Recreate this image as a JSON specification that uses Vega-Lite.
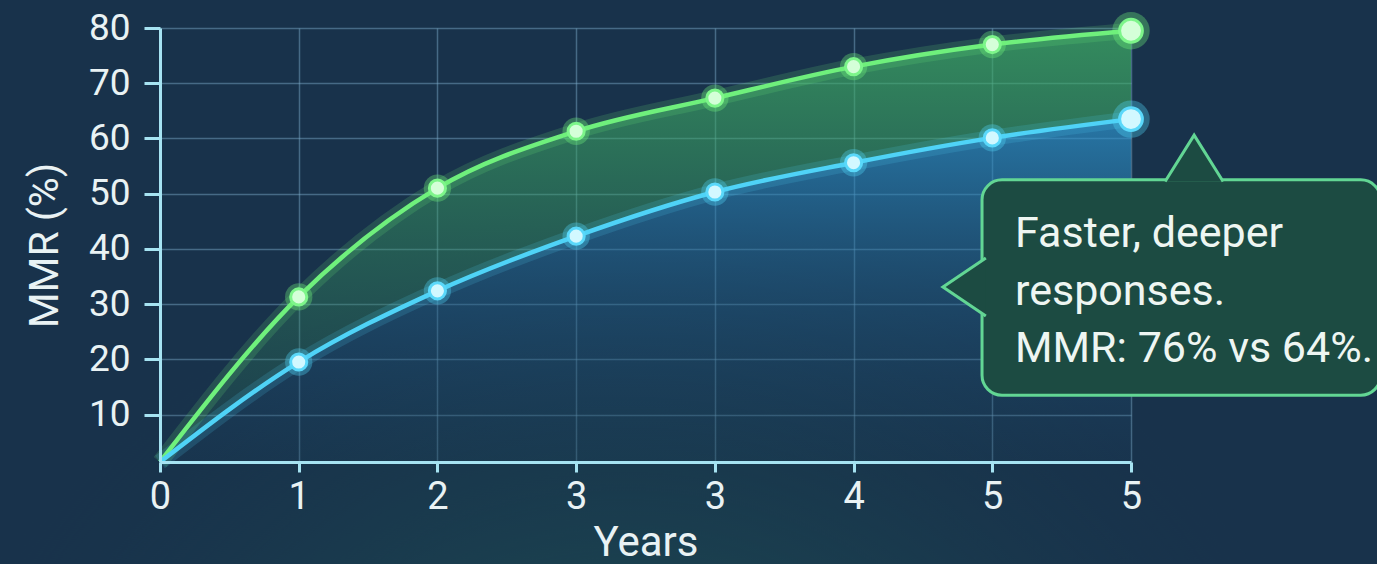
{
  "$schema": "https://vega.github.io/schema/vega-lite/v6.json",
  "width": 971,
  "height": 434,
  "autosize": {"type": "none"},
  "padding": {"left": 160, "top": 28, "right": 246, "bottom": 102},
  "background": "#18324b",
  "config": {
    "view": {"stroke": null},
    "font": "Roboto",
    "axis": {
      "domainColor": "#a6e3f2",
      "domainWidth": 3,
      "tickColor": "#a6e3f2",
      "tickWidth": 3,
      "gridColor": "#7fb0cf",
      "gridOpacity": 0.45,
      "gridWidth": 1.5,
      "labelColor": "#e9f2f4",
      "titleColor": "#e9f2f4",
      "titleFontWeight": "normal",
      "labelFont": "Roboto",
      "titleFont": "Roboto"
    }
  },
  "datasets": {
    "series": [
      {"i": 0, "year": "0", "series": "A", "mmr": 0},
      {"i": 1, "year": "1", "series": "A", "mmr": 31.3},
      {"i": 2, "year": "2", "series": "A", "mmr": 51},
      {"i": 3, "year": "3", "series": "A", "mmr": 61.3},
      {"i": 4, "year": "3", "series": "A", "mmr": 67.3},
      {"i": 5, "year": "4", "series": "A", "mmr": 73},
      {"i": 6, "year": "5", "series": "A", "mmr": 77},
      {"i": 7, "year": "5", "series": "A", "mmr": 79.5},
      {"i": 0, "year": "0", "series": "B", "mmr": 0},
      {"i": 1, "year": "1", "series": "B", "mmr": 19.5},
      {"i": 2, "year": "2", "series": "B", "mmr": 32.4},
      {"i": 3, "year": "3", "series": "B", "mmr": 42.3},
      {"i": 4, "year": "3", "series": "B", "mmr": 50.3},
      {"i": 5, "year": "4", "series": "B", "mmr": 55.6},
      {"i": 6, "year": "5", "series": "B", "mmr": 60.1},
      {"i": 7, "year": "5", "series": "B", "mmr": 63.5}
    ],
    "box": [{"i": 5.926, "i2": 8.8, "mmr": 52.5, "mmr2": 13.5}],
    "pointerTop": [{"i": 7.455, "mmr": 56.6}],
    "pointerLeft": [{"i": 5.803, "mmr": 33.1}],
    "note": [{"i": 6.164, "mmr": 40.3, "label": ["Faster, deeper", "responses.", "MMR: 76% vs 64%."]}],
    "glow": [{"gx": -1.2, "gx2": 8.9, "gy": -18, "gy2": 95}]
  },
  "layer": [
    {
      "data": {"name": "glow"},
      "mark": {
        "type": "rect",
        "fill": {
          "gradient": "radial",
          "x1": 0.45, "y1": 1, "x2": 0.45, "y2": 1, "r1": 0, "r2": 0.55,
          "stops": [
            {"offset": 0, "color": "rgba(36,112,86,0.9)"},
            {"offset": 0.55, "color": "rgba(28,75,82,0.45)"},
            {"offset": 1, "color": "rgba(24,50,75,0)"}
          ]
        }
      },
      "encoding": {
        "x": {
          "field": "gx", "type": "quantitative",
          "scale": {"domain": [0, 7], "nice": false, "zero": false},
          "axis": {"orient": "bottom", "grid": true, "zindex": 0, "domain": false, "labels": false, "ticks": false, "title": null, "minExtent": 0, "maxExtent": 0, "values": [0, 1, 2, 3, 4, 5, 6, 7]}
        },
        "x2": {"field": "gx2"},
        "y": {
          "field": "gy", "type": "quantitative",
          "scale": {"domain": [1.4, 80], "nice": false, "zero": false},
          "axis": {"orient": "left", "grid": true, "zindex": 0, "domain": false, "labels": false, "ticks": false, "title": null, "minExtent": 0, "maxExtent": 0, "values": [10, 20, 30, 40, 50, 60, 70, 80]}
        },
        "y2": {"field": "gy2"}
      }
    },
    {
      "data": {"name": "series"},
      "encoding": {
        "x": {
          "field": "i",
          "type": "quantitative",
          "scale": {"domain": [0, 7], "nice": false, "zero": false},
          "axis": {
            "orient": "bottom",
            "grid": false,
            "zindex": 1,
            "title": "Years",
            "values": [0, 1, 2, 3, 4, 5, 6, 7],
            "labelExpr": "['0','1','2','3','3','4','5','5'][datum.value]",
            "tickSize": 10,
            "labelPadding": 6,
            "labelFontSize": 38,
            "titleFontSize": 42,
            "titleY": 93,
            "titleBaseline": "alphabetic",
            "labelFlush": false,
            "labelOverlap": false
          }
        },
        "y": {
          "field": "mmr",
          "type": "quantitative",
          "scale": {"domain": [1.4, 80], "nice": false, "zero": false, "clamp": true},
          "axis": {
            "orient": "left",
            "grid": false,
            "zindex": 1,
            "title": "MMR (%)",
            "values": [10, 20, 30, 40, 50, 60, 70, 80],
            "tickSize": 16,
            "labelPadding": 14,
            "labelFontSize": 37,
            "titleFontSize": 41,
            "titleX": -115,
            "titleY": 217,
            "titleBaseline": "middle",
            "titleAlign": "center",
            "labelFlush": false,
            "labelOverlap": false
          }
        }
      },
      "layer": [
        {
          "transform": [
            {"pivot": "series", "value": "mmr", "groupby": ["i"]}
          ],
          "mark": {
            "type": "area",
            "interpolate": "monotone",
            "fill": {
              "gradient": "linear", "x1": 0, "y1": 0, "x2": 0, "y2": 1,
              "stops": [
                {"offset": 0, "color": "rgba(64,178,102,0.7)"},
                {"offset": 0.5, "color": "rgba(56,155,98,0.4)"},
                {"offset": 1, "color": "rgba(50,130,90,0.12)"}
              ]
            }
          },
          "encoding": {
            "y": {"field": "A", "type": "quantitative"},
            "y2": {"field": "B"}
          }
        },
        {
          "transform": [{"filter": "datum.series == 'B'"}],
          "mark": {
            "type": "area",
            "interpolate": "monotone",
            "fill": {
              "gradient": "linear", "x1": 0, "y1": 0, "x2": 0, "y2": 1,
              "stops": [
                {"offset": 0, "color": "rgba(46,148,205,0.7)"},
                {"offset": 0.5, "color": "rgba(36,105,150,0.4)"},
                {"offset": 1, "color": "rgba(28,70,105,0.1)"}
              ]
            }
          }
        },
        {
          "mark": {"type": "line", "interpolate": "monotone", "strokeWidth": 16, "opacity": 0.16},
          "encoding": {
            "color": {"field": "series", "type": "nominal", "scale": {"domain": ["A", "B"], "range": ["#6ff07c", "#4fd3f7"]}, "legend": null}
          }
        },
        {
          "mark": {"type": "line", "interpolate": "monotone", "strokeWidth": 4.5},
          "encoding": {
            "color": {"field": "series", "type": "nominal", "scale": {"domain": ["A", "B"], "range": ["#6ff07c", "#4fd3f7"]}, "legend": null}
          }
        },
        {
          "transform": [{"filter": "datum.i > 0"}],
          "mark": {"type": "point", "shape": "circle", "filled": true, "opacity": 0.35},
          "encoding": {
            "color": {"field": "series", "type": "nominal", "scale": {"domain": ["A", "B"], "range": ["#6ff07c", "#4fd3f7"]}, "legend": null},
            "size": {"condition": {"test": "datum.i == 7", "value": 1400}, "value": 750}
          }
        },
        {
          "transform": [{"filter": "datum.i > 0"}],
          "mark": {"type": "point", "shape": "circle", "filled": true, "opacity": 1, "strokeWidth": 3},
          "encoding": {
            "fill": {"field": "series", "type": "nominal", "scale": {"domain": ["A", "B"], "range": ["#d4ffd8", "#d2f8ff"]}, "legend": null},
            "stroke": {"field": "series", "type": "nominal", "scale": {"domain": ["A", "B"], "range": ["#7df58a", "#5ad8fa"]}, "legend": null},
            "size": {"condition": {"test": "datum.i == 7", "value": 520}, "value": 260}
          }
        },
        {
          "data": {"name": "box"},
          "mark": {"type": "rect", "cornerRadius": 20, "fill": "#1c4b42", "stroke": "#62d694", "strokeWidth": 3},
          "encoding": {
            "x": {"field": "i", "type": "quantitative"},
            "x2": {"field": "i2"},
            "y": {"field": "mmr", "type": "quantitative"},
            "y2": {"field": "mmr2"}
          }
        },
        {
          "data": {"name": "pointerTop"},
          "mark": {"type": "point", "shape": "M -1 0.84 L 0 -0.76 L 1 0.84", "filled": true, "fill": "#1c4b42", "stroke": "#62d694", "strokeWidth": 3, "opacity": 1, "size": 3364},
          "encoding": {
            "x": {"field": "i", "type": "quantitative"},
            "y": {"field": "mmr", "type": "quantitative"}
          }
        },
        {
          "data": {"name": "pointerLeft"},
          "mark": {"type": "point", "shape": "M 0.72 -1 L -0.76 0 L 0.72 1", "filled": true, "fill": "#1c4b42", "stroke": "#62d694", "strokeWidth": 3, "opacity": 1, "size": 3364},
          "encoding": {
            "x": {"field": "i", "type": "quantitative"},
            "y": {"field": "mmr", "type": "quantitative"}
          }
        },
        {
          "data": {"name": "note"},
          "mark": {"type": "text", "align": "left", "baseline": "alphabetic", "fontSize": 43, "lineHeight": 57.5, "color": "#eef6f2", "font": "Roboto"},
          "encoding": {
            "x": {"field": "i", "type": "quantitative"},
            "y": {"field": "mmr", "type": "quantitative"},
            "text": {"field": "label"}
          }
        }
      ]
    }
  ],
  "resolve": {"scale": {"x": "independent", "y": "independent"}}
}
